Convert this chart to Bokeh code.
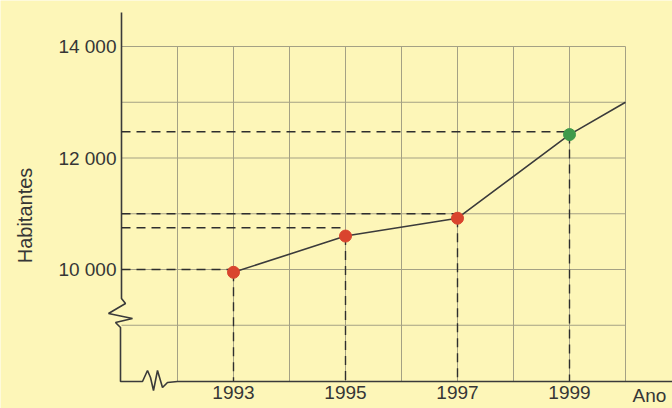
import math
from bokeh.plotting import figure
from bokeh.models import Range1d, ColumnDataSource
from bokeh.core.properties import value
from bokeh.embed import file_html
from bokeh.resources import INLINE

# ---- data ----
years = [1993, 1995, 1997, 1999]
habitantes = [9950, 10600, 10920, 12420]
point_colors = ["#d9442e", "#d9442e", "#d9442e", "#3f9a4b"]
guide_levels = [10000, 10750, 11000, 12470]   # dashed reading lines as drawn
end_year = [2000]
end_value = [13000]
y_ticks = [10000, 12000, 14000]
y_tick_labels = ["10 000", "12 000", "14 000"]
x_tick_labels = ["1993", "1995", "1997", "1999"]
grid_years = [1992, 1993, 1994, 1995, 1996, 1997, 1998, 1999, 2000]
grid_levels = [9000, 10000, 11000, 12000, 13000, 14000]
axis_year = 1991
axis_level = 8000

W, H = 672, 408
X0PX, YPX = 121, 269          # pixel of (1991, 10000)
PX_PER_YEAR = 56.0
PX_PER_1000 = 55.75


def px_x(px):
    return axis_year + (px - X0PX) / PX_PER_YEAR


def px_y(py):
    return 10000 - (py - YPX) * 1000 / PX_PER_1000


p = figure(width=W, height=H, output_backend="svg", toolbar_location=None,
           x_axis_location=None, y_axis_location=None,
           x_range=Range1d(px_x(0), px_x(W)), y_range=Range1d(px_y(H), px_y(0)),
           min_border=0, min_border_left=0, min_border_right=0,
           min_border_top=0, min_border_bottom=0)
p.grid.visible = False
p.outline_line_color = None
p.background_fill_color = "#fdf6b8"
p.border_fill_color = "#fdf6b8"

grid_color = "#a4a184"
# vertical grid lines
p.segment(x0=grid_years, x1=grid_years,
          y0=[axis_level] * len(grid_years), y1=[max(grid_levels)] * len(grid_years),
          line_color=grid_color, line_width=1)
# horizontal grid lines
p.segment(x0=[axis_year] * len(grid_levels), x1=[max(grid_years)] * len(grid_levels),
          y0=grid_levels, y1=grid_levels, line_color=grid_color, line_width=1)

# axes with break marks (decoration, pixel outline)
axis_px = [(121, 12), (121, 298), (125, 303), (108, 313), (132, 318), (115, 322),
           (120, 327), (120, 381), (142, 381), (147, 370), (150, 377), (153, 390),
           (157, 370), (162, 387), (167, 382), (177, 381), (672, 381)]
p.line(x=[px_x(a) for a, b in axis_px], y=[px_y(b) for a, b in axis_px],
       line_color="#3a3a3a", line_width=1.6)

dash_color = "#2e2e2e"
# horizontal dashed reading lines
p.segment(x0=[axis_year] * len(years), x1=years, y0=guide_levels, y1=guide_levels,
          line_color=dash_color, line_width=1.4, line_dash="9 6")
# vertical dashed reading lines
p.segment(x0=years, x1=years, y0=habitantes, y1=[axis_level] * len(years),
          line_color=dash_color, line_width=1.4, line_dash="9 6")

# data line
p.line(x=years + end_year, y=habitantes + end_value, line_color="#3b3b3b", line_width=1.6)
src = ColumnDataSource(dict(x=years, y=habitantes, c=point_colors))
p.scatter("x", "y", source=src, size=12, fill_color="c", line_color="c")

font = value("Liberation Sans")
tc = "#363636"
# y tick labels
p.text(x=[axis_year] * len(y_ticks), y=y_ticks, text=y_tick_labels,
       text_font=font, text_font_size="19px", text_color=tc,
       text_align="right", text_baseline="middle", x_offset=-5)
# x tick labels
p.text(x=years, y=[axis_level] * len(years), text=x_tick_labels,
       text_font=font, text_font_size="19px", text_color=tc,
       text_align="center", text_baseline="top", y_offset=5)
# axis titles
p.text(x=[px_x(24)], y=[px_y(215)], text=["Habitantes"], angle=math.pi / 2,
       text_font=font, text_font_size="20px", text_color=tc,
       text_align="center", text_baseline="middle")
p.text(x=[px_x(632)], y=[axis_level], text=["Ano"],
       text_font=font, text_font_size="19px", text_color=tc,
       text_align="left", text_baseline="top", y_offset=4)

open("out.html", "w").write(file_html(p, INLINE))
